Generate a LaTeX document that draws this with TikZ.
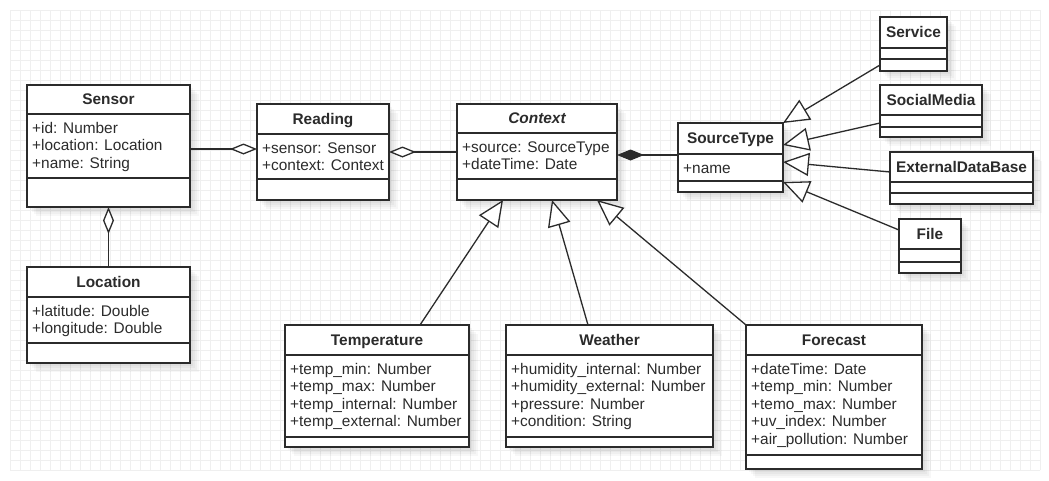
\documentclass[tikz,border=0pt]{standalone}
\usepackage{fontspec}
\setmainfont{Liberation Sans}
\usetikzlibrary{arrows.meta,calc}
\definecolor{ink}{HTML}{2B2B2B}
\definecolor{gridc}{HTML}{EFEFEF}
\tikzset{
  box/.style={draw=ink, line width=1.5pt, fill=white, inner sep=0pt, outer sep=0pt, anchor=north west},
  sepline/.style={draw=ink, line width=1.5pt},
  shadowfill/.style={fill=black, fill opacity=0.03},
  ttl/.style={font=\fontsize{15.4}{17.5}\selectfont\bfseries, text=ink, inner sep=0pt, text height=10.9pt, text depth=0pt},
  attr/.style={font=\fontsize{15.4}{17.5}\selectfont, text=ink, inner sep=0pt, anchor=base west},
  conn/.style={draw=ink, line width=1.3pt},
  aggr/.style={conn, {Diamond[open,fill=white,length=27pt,width=11pt]}-},
  comp/.style={conn, {Diamond[length=27pt,width=11pt]}-},
  gen/.style={conn, -{Triangle[open,fill=white,length=26pt,width=23pt]}},
}
% name, x1, y1, x2, y2, sep1, sep2, title, attributes
\newcommand{\umlshadow}[4]{%
  \foreach \k in {3,5,7,9} {\fill[shadowfill] ({#1+\k},{#2+\k}) rectangle ({#3+\k},{#4+\k});}
}
\newcommand{\umlclass}[9]{%
  \umlshadow{#2}{#3}{#4}{#5}
  \node[box, minimum width={#4-#2}, minimum height={#5-#3}] (#1) at (#2,#3) {};
  \draw[sepline] (#2,#6) -- (#4,#6);
  \draw[sepline] (#2,#7) -- (#4,#7);
  \node[ttl] (#1-t) at ({(#2+#4)/2},{(#3+#6)/2}) {#8};
  \foreach \t [count=\i] in {#9} {\node[attr] (#1-a\i) at ({#2+5},{#6+19+(\i-1)*17.5}) {\t};}
}
\newcommand{\umlsmall}[8]{%
  \umlshadow{#2}{#3}{#4}{#5}
  \node[box, minimum width={#4-#2}, minimum height={#5-#3}] (#1) at (#2,#3) {};
  \draw[sepline] (#2,#6) -- (#4,#6);
  \draw[sepline] (#2,#7) -- (#4,#7);
  \node[ttl] (#1-t) at ({(#2+#4)/2},{(#3+#6)/2}) {#8};
}
\begin{document}
\begin{tikzpicture}[x=1pt,y=-1pt]
\useasboundingbox (0,0) rectangle (1049,480);
\fill[white] (0,0) rectangle (1049,480);
\draw[gridc, line width=0.5pt, step=10pt] (10,10) grid (1040,470);

\umlclass{sensor}{27}{85}{190}{207}{114}{178}{Sensor}{+id: Number, +location: Location, +name: String}
\umlclass{location}{27}{267}{190}{363}{297}{343}{Location}{+latitude: Double, +longitude: Double}
\umlclass{reading}{257}{104}{389}{200}{134}{179}{Reading}{+sensor: Sensor, +context: Context}
\umlclass{context}{457}{104}{617}{200}{133}{179}{\itshape Context}{+source: SourceType, +dateTime: Date}
\umlclass{sourcetype}{678}{123}{783}{192}{154}{181}{SourceType}{+name}
\umlsmall{service}{880}{17}{947}{71}{48}{59}{Service}
\umlsmall{socialmedia}{880}{85}{982}{137}{115}{127}{SocialMedia}
\umlsmall{externaldatabase}{890}{152}{1033}{204}{182}{193}{ExternalDataBase}
\umlsmall{file}{899}{219}{961}{273}{249}{262}{File}
\umlclass{temperature}{285}{325}{469}{447}{355}{437}{Temperature}{+temp\_min: Number, +temp\_max: Number, +temp\_internal: Number, +temp\_external: Number}
\umlclass{weather}{506}{325}{713}{447}{355}{437}{Weather}{+humidity\_internal: Number, +humidity\_external: Number, +pressure: Number, +condition: String}
\umlclass{forecast}{746}{325}{922}{469}{355}{455}{Forecast}{+dateTime: Date, +temp\_min: Number, +temo\_max: Number, +uv\_index: Number, +air\_pollution: Number}

% associations
\draw[aggr] (sensor.south) -- (location.north);
\draw[aggr] ([yshift=3pt]reading.west) -- ([yshift=3pt]reading.west -| sensor.east);
\draw[aggr] (reading.east) -- (context.west);
\draw[comp] ([yshift=-3pt]context.east) -- ([yshift=-3pt]context.east -| sourcetype.west);

% generalizations
\draw[gen] ([xshift=43pt]temperature.north) -- ([xshift=-34pt]context.south);
\draw[gen] ([xshift=-21.5pt]weather.north) -- ([xshift=15pt]context.south);
\draw[gen] (forecast.north west) -- ([xshift=60pt]context.south);
\draw[gen] ([yshift=6pt]service.south west) -- (sourcetype.north east);
\draw[gen] ([yshift=14pt]socialmedia.south west) -- ([yshift=-22pt]sourcetype.north east);
\draw[gen] ([yshift=6pt]externaldatabase.west) -- ([yshift=-39pt]sourcetype.north east);
\draw[gen] ([yshift=16pt]file.west) -- ([yshift=-59pt]sourcetype.north east);
\end{tikzpicture}
\end{document}
